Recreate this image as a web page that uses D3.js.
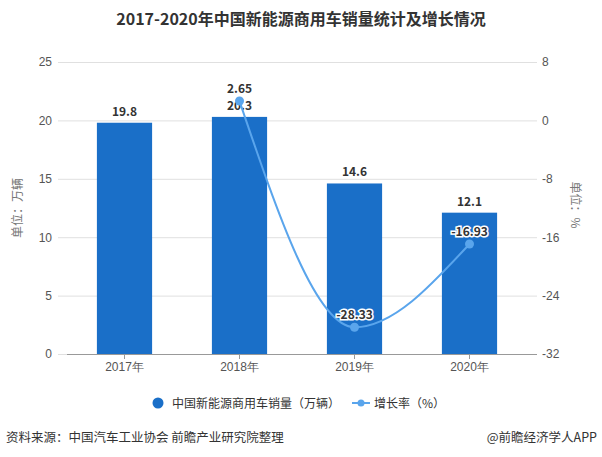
<!DOCTYPE html>
<html><head><meta charset="utf-8">
<script src="https://cdn.jsdelivr.net/npm/d3@7"></script>
<style>
body{margin:0;background:#fff;}
svg{display:block;font-family:"Microsoft YaHei","Noto Sans CJK SC",sans-serif;}
</style></head>
<body><svg id="c" width="602" height="457"></svg>
<script>
const years = ["2017年","2018年","2019年","2020年"];
const sales = [19.8, 20.3, 14.6, 12.1];
const growthYears = ["2018年","2019年","2020年"];
const growth = [2.65, -28.33, -16.93];
const leftTicks = [0,5,10,15,20,25];
const rightTicks = [-32,-24,-16,-8,0,8];

const svg = d3.select("#c");
const barColor = "#1a6fc8", lineColor = "#5aa5ec";

const x = d3.scaleBand().domain(years).range([67,527]).paddingInner(0.52).paddingOuter(0.26);
const yL = d3.scaleLinear().domain([0,25]).range([354,62]);
const yR = d3.scaleLinear().domain([-32,8]).range([354,62]);

// title
svg.append("text").attr("x",301).attr("y",25).attr("text-anchor","middle")
  .attr("font-size",16).attr("font-weight","bold").attr("fill","#333")
  .text("2017-2020年中国新能源商用车销量统计及增长情况");

// gridlines
const grid = svg.append("g");
grid.selectAll("line").data(leftTicks).join("line")
  .attr("x1",58).attr("x2",537).attr("y1",d=>yL(d)+0.5).attr("y2",d=>yL(d)+0.5)
  .attr("stroke","#e0e0e0");

// left axis
const la = svg.append("g").attr("transform","translate(58,0)")
  .call(d3.axisLeft(yL).tickValues(leftTicks).tickFormat(d=>String(d)).tickSize(0).tickPadding(6));
la.select(".domain").remove();
la.selectAll("text").attr("font-size",12).attr("fill","#555").attr("font-family","inherit");

// right axis
const ra = svg.append("g").attr("transform","translate(537,0)")
  .call(d3.axisRight(yR).tickValues(rightTicks).tickFormat(d=>String(d)).tickSize(0).tickPadding(5));
ra.select(".domain").remove();
ra.selectAll("text").attr("font-size",12).attr("fill","#555").attr("font-family","inherit");

// bars
svg.append("g").selectAll("rect").data(years).join("rect")
  .attr("x",d=>x(d)).attr("width",x.bandwidth())
  .attr("y",(d,i)=>yL(sales[i])).attr("height",(d,i)=>yL(0)-yL(sales[i]))
  .attr("fill",barColor);

// x axis
const xa = svg.append("g").attr("transform","translate(0,354)")
  .call(d3.axisBottom(x).tickSize(5).tickPadding(3));
xa.select(".domain").attr("d","M67,0.5H537").attr("stroke","#999");
xa.selectAll(".tick line").attr("stroke","#999");
xa.selectAll("text").attr("font-size",12).attr("fill","#555").attr("font-family","inherit");

// bar labels
svg.append("g").selectAll("text").data(years).join("text")
  .attr("x",d=>x(d)+x.bandwidth()/2).attr("y",(d,i)=>yL(sales[i])-7)
  .attr("text-anchor","middle").attr("font-size",12).attr("font-weight","bold").attr("fill","#333")
  .text((d,i)=>sales[i]);

// line
const cx = d=>x(d)+x.bandwidth()/2;
const line = d3.line().x((d,i)=>cx(growthYears[i])).y(d=>yR(d)).curve(d3.curveMonotoneX);
svg.append("path").datum(growth).attr("d",line).attr("fill","none")
  .attr("stroke",lineColor).attr("stroke-width",2);
svg.append("g").selectAll("circle").data(growth).join("circle")
  .attr("cx",(d,i)=>cx(growthYears[i])).attr("cy",d=>yR(d)).attr("r",4.5).attr("fill",lineColor);

// line labels
svg.append("g").selectAll("text").data(growth).join("text")
  .attr("x",(d,i)=>cx(growthYears[i])).attr("y",d=>yR(d)-8)
  .attr("text-anchor","middle").attr("font-size",12).attr("font-weight","bold").attr("fill","#333")
  .attr("stroke","#fff").attr("stroke-width",(d)=>d<0?3:0).attr("paint-order","stroke")
  .text(d=>String(d));

// axis titles
svg.append("text").attr("transform","translate(22,208) rotate(-90)").attr("text-anchor","middle")
  .attr("font-size",12).attr("fill","#777").text("单位：万辆");
svg.append("text").attr("transform","translate(571,205) rotate(90)").attr("text-anchor","middle")
  .attr("font-size",12).attr("fill","#777").text("单位：%");

// legend
const lg = svg.append("g");
lg.append("circle").attr("cx",158).attr("cy",403).attr("r",5.5).attr("fill",barColor);
lg.append("text").attr("x",172).attr("y",407.5).attr("font-size",12).attr("fill","#333")
  .text("中国新能源商用车销量（万辆）");
lg.append("line").attr("x1",352).attr("x2",370).attr("y1",403).attr("y2",403).attr("stroke",lineColor).attr("stroke-width",2);
lg.append("circle").attr("cx",361).attr("cy",403).attr("r",3.5).attr("fill",lineColor);
lg.append("text").attr("x",374).attr("y",407.5).attr("font-size",12).attr("fill","#333")
  .text("增长率（%）");

// source
svg.append("text").attr("x",6).attr("y",442).attr("font-size",12.5).attr("fill","#333")
  .text("资料来源：中国汽车工业协会 前瞻产业研究院整理");
svg.append("text").attr("x",597).attr("y",442).attr("text-anchor","end").attr("font-size",12.5).attr("fill","#333")
  .text("@前瞻经济学人APP");
</script></body></html>
